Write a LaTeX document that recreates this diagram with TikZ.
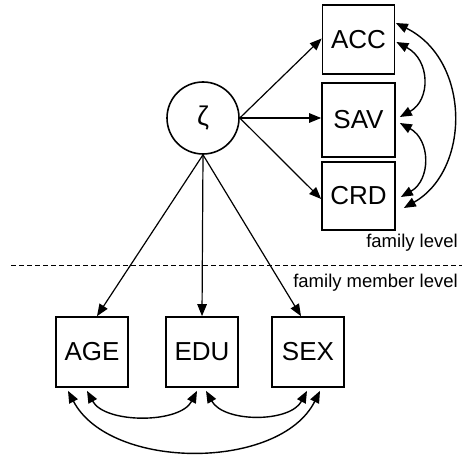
\documentclass[tikz,border=0pt]{standalone}
\usepackage{fontspec}
\setmainfont{Liberation Sans}
\usetikzlibrary{arrows.meta}
\begin{document}
\begin{tikzpicture}[x=1pt,y=-1pt,
  var/.style={draw,line width=1.7pt,rectangle,minimum width=72pt,minimum height=70pt,inner sep=0pt,font=\fontsize{26}{26}\selectfont},
  lat/.style={draw,line width=1.6pt,circle,minimum size=72pt,inner sep=0pt,font=\fontsize{27}{27}\selectfont},
  path/.style={line width=1.2pt,-{Triangle[length=12pt,width=9.5pt]}},
  cov/.style={line width=1.4pt,{Triangle[length=12pt,width=9.5pt]}-{Triangle[length=12pt,width=9.5pt]}},
  lvl/.style={anchor=east,inner sep=0pt,font=\fontsize{18.5}{18.5}\selectfont}]
\useasboundingbox (0,0) rectangle (462,454);

% latent factor and indicators
\node[lat] (z) at (203,118) {ζ};
\node[var,minimum height=69pt] (acc) at (358.5,39.5) {ACC};
\node[var,minimum height=74pt,minimum width=73pt] (sav) at (358.5,120) {SAV};
\node[var,minimum height=68pt,minimum width=73pt] (crd) at (358.5,196) {CRD};
\node[var] (age) at (92,352) {AGE};
\node[var] (edu) at (202,352) {EDU};
\node[var] (sex) at (308,352) {SEX};

% level separator
\coordinate (dl) at (11,265);
\coordinate (dr) at (462,265);
\draw[line width=0.8pt,dash pattern=on 5pt off 3pt] (dl) -- (dr);
\node[lvl] (fl) at (458,243) {family level};
\node[lvl] (fml) at (458,283) {family member level};

% directed paths
\draw[path] (z.east) -- ([yshift=1pt]acc.west);
\draw[path] (z.east) -- ([yshift=2pt]sav.west);
\draw[path] (z.east) -- ([yshift=-3pt]crd.west);
\draw[path] (z.south) -- ([xshift=5pt]age.north);
\draw[path] (z.south) -- (edu.north);
\draw[path] (z.south) -- ([xshift=-7pt]sex.north);

% covariances, family level
\draw[cov] ([xshift=1pt,yshift=-2.5pt]acc.east) .. controls +(34,18) and +(31,-17) .. ([xshift=4pt,yshift=3pt]sav.east);
\draw[cov] ([xshift=4pt,yshift=-3pt]sav.east) .. controls +(31,17) and +(30,-17) .. ([xshift=5pt,yshift=-1pt]crd.east);
\draw[cov] ([xshift=0.5pt,yshift=16.5pt]acc.east) .. controls +(75,37) and +(67,-38) .. ([xshift=8pt,yshift=-12pt]crd.east);

% covariances, family member level
\draw[cov] ([xshift=-5pt,yshift=-3pt]age.south) .. controls +(18,33) and +(-17,33) .. ([xshift=-5pt,yshift=-3pt]edu.south);
\draw[cov] ([xshift=4pt,yshift=-3pt]edu.south) .. controls +(18,32) and +(-17,32) .. ([xshift=-1pt,yshift=-3pt]sex.south);
\draw[cov] ([xshift=-24pt,yshift=-3pt]age.south) .. controls +(42,80) and +(-40,80) .. ([xshift=12pt,yshift=-3pt]sex.south);
\end{tikzpicture}
\end{document}
